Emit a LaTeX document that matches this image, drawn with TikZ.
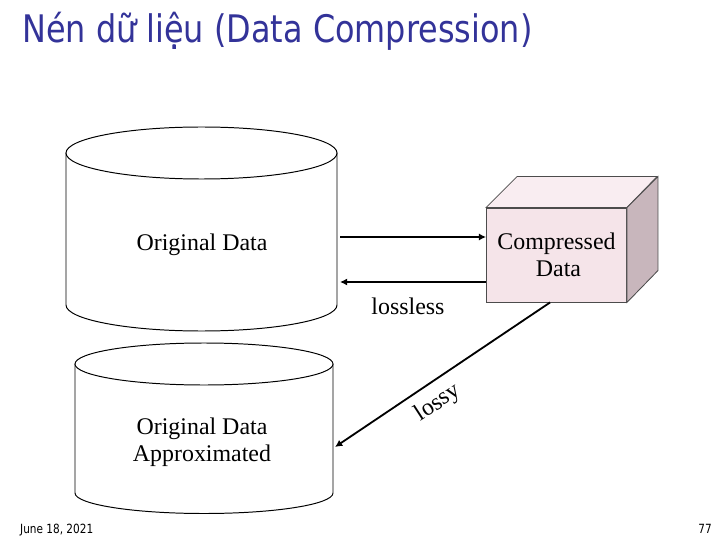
\documentclass[tikz,border=0pt]{standalone}
\usepackage{fontspec}
\setmainfont{Liberation Serif}
\newfontfamily\tahoma{DejaVu Sans}
\usepackage{tikz}
\usetikzlibrary{arrows.meta}
\usepackage{xcolor}
\definecolor{titleblue}{RGB}{51,51,153}
\definecolor{cubefront}{RGB}{245,228,233}
\definecolor{cubetop}{RGB}{249,237,241}
\definecolor{cubeside}{RGB}{200,182,188}

\begin{document}
\begin{tikzpicture}[x=0.025cm,y=0.025cm,>={Latex[length=1.8mm,width=1.8mm]},
  cyl/.style={draw=black,line width=0.7pt,fill=white},
  lbl/.style={font=\fontsize{17}{19}\selectfont,align=center,inner sep=0pt},
  flow/.style={->,line width=1.3pt},
  face/.style={draw=black!70,line width=0.6pt}]
\fill[white] (0,0) rectangle (720,540);
\useasboundingbox (0,0) rectangle (720,540);
\node[anchor=base west,inner sep=0pt,xscale=0.84,text=titleblue,font=\tahoma\fontsize{27}{32}\selectfont] (title) at (22,497) {Nén dữ liệu (Data Compression)};
% original data
\draw[cyl] (66,387) -- (66,235) arc[start angle=180,end angle=360,x radius=135.5,y radius=26] -- (337,387);
\draw[cyl] (201.5,387) ellipse (135.5 and 26);
\node[lbl] (orig) at (202,295) {Original Data};
% approximated
\draw[cyl] (75,176) -- (75,47) arc[start angle=180,end angle=360,x radius=129,y radius=20.5] -- (333,176);
\draw[cyl] (204,176) ellipse (129 and 21);
\node[lbl] (aprxtext) at (202,98) {Original Data\\Approximated};
% compressed cube
\node[face,fill=cubefront,minimum width=3.5cm,minimum height=2.35cm,lbl] (comp) at (556.5,285) {Compressed\\\hspace*{0.1cm}Data};
\draw[face,fill=cubetop] (comp.north west) -- ++(31,31) -- ++(140,0) -- (comp.north east) -- cycle;
\draw[face,fill=cubeside] (comp.north east) -- ++(31,31) -- ++(0,-94) -- (comp.south east) -- cycle;
% arrows
\coordinate (in1) at (340,303);
\coordinate (out1) at (340,258);
\coordinate (aprx) at (335,93);
\draw[flow] (in1) -- (in1 -| comp.west);
\draw[flow] (out1 -| comp.west) -- (out1);
\draw[flow] ([xshift=-0.16cm]comp.south) -- (aprx);
\node[lbl] (lossless) at (408,234) {lossless};
\node[lbl,rotate=33] (lossy) at (438,137) {lossy};
% footer
\node[anchor=base west,inner sep=0pt,xscale=0.83,font=\tahoma\fontsize{9}{10}\selectfont] (date) at (20,7) {June 18, 2021};
\node[anchor=base east,inner sep=0pt,xscale=0.83,font=\tahoma\fontsize{9}{10}\selectfont] (page) at (712,7) {77};
\end{tikzpicture}
\end{document}
